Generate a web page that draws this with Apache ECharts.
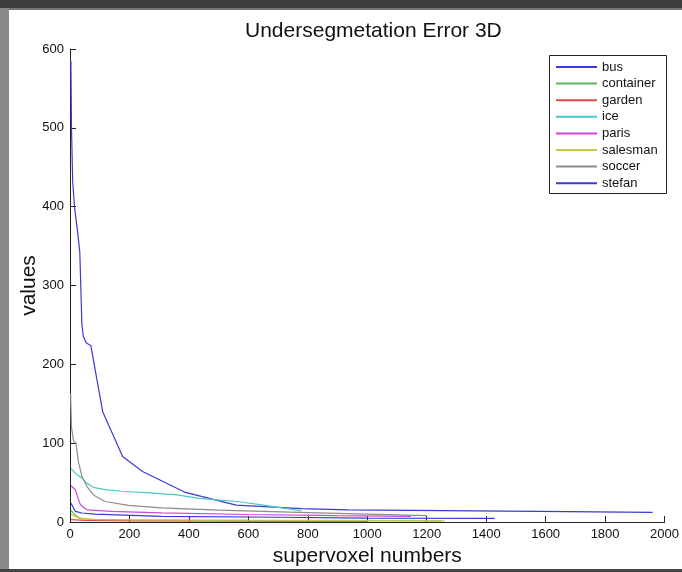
<!DOCTYPE html>
<html>
<head>
<meta charset="utf-8">
<script src="https://cdn.jsdelivr.net/npm/echarts@6/dist/echarts.min.js"></script>
<style>
html,body{margin:0;padding:0;background:#fff;}
#c{width:682px;height:572px;}
</style>
</head>
<body>
<div id="c"></div>
<script>
var seriesNames = ['bus','container','garden','ice','paris','salesman','soccer','stefan'];
var seriesColors = ['#3a3ad6','#5cb85c','#e04848','#4cc8c8','#d444d4','#c8c844','#8c8c8c','#3a3ad6'];

var bus = [[3,585],[5,500],[9,432],[15,400],[25,370],[33,342],[40,250],[45,235],[55,227],[70,224],[90,182],[110,140],[177,83],[244,64],[385,38],[559,21.5],[779,17],[936,15.5],[1572,13.5],[1960,12.3]];
var container = [[3,15],[10,12],[18,8.5],[30,5],[60,3.5],[200,2.5],[600,2],[1250,1.5]];
var garden = [[3,3],[50,2],[200,1.5],[600,1],[1000,1]];
var ice = [[3,68],[23,60],[40,56],[57,49],[79,44],[117,41],[174,39],[268,37],[360,34.5],[435,30],[560,26],[640,22],[779,14]];
var paris = [[3,46],[18,41],[27,30],[35,22],[57,15.5],[140,13.5],[308,11.5],[600,9.5],[900,8],[1147,7.2]];
var salesman = [[3,11],[10,8],[23,6.5],[40,4.2],[100,3],[400,2.5],[900,2],[1261,1.5]];
var soccer = [[2,163],[5,120],[12,103],[20,100],[28,77],[40,58],[57,45],[80,34],[118,26],[197,21],[307,18],[500,15],[800,12],[1000,10],[1200,8]];
var stefan = [[3,24],[8,22],[18,13.5],[40,11.4],[84,10],[308,7.2],[700,6],[1000,5],[1428,4.5]];

var allData = [bus, container, garden, ice, paris, salesman, soccer, stefan];

var font = '"Liberation Sans", Arial, Helvetica, sans-serif';
var chart = echarts.init(document.getElementById('c'), null, {renderer:'canvas'});

var series = seriesNames.map(function(n,i){
  return {
    name: n, type: 'line', data: allData[i], showSymbol: false, symbol: 'none',
    lineStyle: {color: seriesColors[i], width: 1.2},
    itemStyle: {color: seriesColors[i]},
    animation: false, z: 2 + i
  };
});

chart.setOption({
  backgroundColor: '#ffffff',
  animation: false,
  title: {
    text: 'Undersegmetation Error 3D', left: 240, top: 16,
    textStyle: {fontFamily: font, fontSize: 21, fontWeight: 'normal', color: '#111'}
  },
  grid: {left: 70, right: 14, top: 49, bottom: 48, containLabel: false},
  xAxis: {
    type: 'value', min: 0, max: 2000, interval: 200,
    name: 'supervoxel numbers', nameLocation: 'middle', nameGap: 24, nameMoveOverlap: false,
    nameTextStyle: {fontFamily: font, fontSize: 21, color: '#111'},
    axisLine: {show: true, lineStyle: {color: '#222', width: 1}},
    axisTick: {show: true, inside: true, length: 6, lineStyle: {color: '#222'}},
    axisLabel: {fontFamily: font, fontSize: 13, color: '#111', margin: 6, formatter: function(v){return String(v);}},
    splitLine: {show: false}
  },
  yAxis: {
    type: 'value', min: 0, max: 600, interval: 100,
    name: 'values', nameLocation: 'middle', nameGap: 30, nameRotate: 90, nameMoveOverlap: false,
    nameTextStyle: {fontFamily: font, fontSize: 21, color: '#111'},
    axisLine: {show: true, lineStyle: {color: '#222', width: 1}},
    axisTick: {show: true, inside: true, length: 6, lineStyle: {color: '#222'}},
    axisLabel: {fontFamily: font, fontSize: 13, color: '#111', margin: 6, formatter: function(v){return String(v);}},
    splitLine: {show: false}
  },
  legend: {
    orient: 'vertical', left: 556, top: 60, itemWidth: 41, itemHeight: 2, itemGap: 2.6,
    icon: 'rect', padding: 0,
    data: seriesNames,
    textStyle: {fontFamily: font, fontSize: 13, color: '#111', lineHeight: 14}
  },
  series: series,
  graphic: [
    {type: 'rect', shape: {x: 549.5, y: 55.5, width: 117, height: 138}, style: {fill: 'none', stroke: '#222', lineWidth: 1}, z: 100},
    {type: 'rect', shape: {x: 0, y: 0, width: 682, height: 8}, style: {fill: '#3c3c3c'}, z: 100},
    {type: 'rect', shape: {x: 0, y: 8, width: 682, height: 2}, style: {fill: '#777'}, z: 100},
    {type: 'rect', shape: {x: 0, y: 8, width: 9, height: 564}, style: {fill: '#8a8a8a'}, z: 100},
    {type: 'rect', shape: {x: 0, y: 569, width: 682, height: 3}, style: {fill: '#444'}, z: 100}
  ]
});
</script>
</body>
</html>
